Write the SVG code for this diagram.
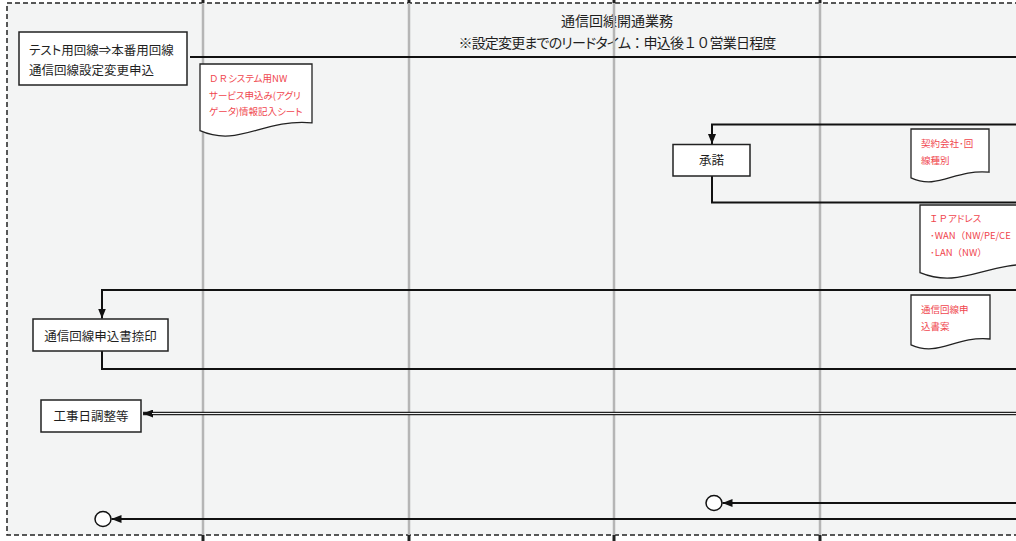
<svg xmlns="http://www.w3.org/2000/svg" width="1016" height="541" viewBox="0 0 1016 541">
<style>
text{font-family:"Noto Sans CJK JP","Noto Sans",sans-serif;fill:#1f1f1f}
.p{font-feature-settings:"palt"}
.n{font-feature-settings:normal}
.t14{font-size:14px}
.t12{font-size:12.5px;font-feature-settings:"palt"}
.red{font-size:9.5px;fill:#f0464e;font-feature-settings:"palt"}
.box{fill:#fff;stroke:#222;stroke-width:1.5}
.doc{fill:#fff;stroke:#222;stroke-width:1.3}
.lane{stroke:#b5b5b5;stroke-width:2.5}
.tick{stroke:#222;stroke-width:3}
.con{fill:none;stroke:#111;stroke-width:2}
</style>
<defs>
<marker id="arr" viewBox="0 0 10 8" refX="10" refY="4" markerWidth="10" markerHeight="8" markerUnits="userSpaceOnUse" orient="auto">
<path d="M0,0 L10,4 L0,8 z" fill="#111"/>
</marker>
</defs>
<rect x="0" y="0" width="1016" height="541" fill="#fff"/>
<rect x="7" y="3" width="1020" height="532" fill="#f3f4f4" stroke="#222" stroke-width="1.5" stroke-dasharray="5 3"/>
<g id="title">
<text class="t14" x="617" y="26" text-anchor="middle">通信回線開通業務</text>
<text class="t14" x="617" y="48" text-anchor="middle" letter-spacing="-0.8">※設定変更<tspan class="p">までのリードタイム</tspan>：申込後１０営業日程度</text>
</g>
<g id="lanes">
<line class="lane" x1="203" y1="3" x2="203" y2="535"/>
<line class="lane" x1="409" y1="3" x2="409" y2="535"/>
<line class="lane" x1="614" y1="3" x2="614" y2="535"/>
<line class="lane" x1="820" y1="3" x2="820" y2="535"/>
<line class="tick" x1="203" y1="0" x2="203" y2="3"/>
<line class="tick" x1="409" y1="0" x2="409" y2="3"/>
<line class="tick" x1="614" y1="0" x2="614" y2="3"/>
<line class="tick" x1="820" y1="0" x2="820" y2="3"/>
<line class="tick" x1="203" y1="535" x2="203" y2="541"/>
<line class="tick" x1="409" y1="535" x2="409" y2="541"/>
<line class="tick" x1="614" y1="535" x2="614" y2="541"/>
<line class="tick" x1="820" y1="535" x2="820" y2="541"/>
</g>
<g id="connectors">
<path class="con" d="M190,57 H1016"/>
<path class="con" d="M1016,124.5 H712 V144" marker-end="url(#arr)"/>
<path class="con" d="M712,176 V202.5 H1016"/>
<path class="con" d="M1016,290 H102 V318.5" marker-end="url(#arr)"/>
<path class="con" d="M102,351 V369 H1016"/>
<path d="M1016,413.5 H143" fill="none" stroke="#222" stroke-width="3.6" marker-end="url(#arr)"/>
<path d="M1016,413.5 H152" fill="none" stroke="#f3f4f4" stroke-width="1.2"/>
<path class="con" d="M1016,503 H722.5" marker-end="url(#arr)"/>
<path class="con" d="M1016,519 H111.5" marker-end="url(#arr)"/>
</g>
<g id="n-request">
<rect class="box" x="19" y="32" width="168" height="53"/>
<text class="t12" x="29" y="55">テスト用回線⇒本番用回線</text>
<text class="t12" x="29" y="75">通信回線設定変更申込</text>
</g>
<g id="doc-dr">
<path class="doc" d="M200,64 H312 V122.9 C261.6,118.6 239.2,147.8 200,130.7 Z"/>
<text class="red" x="209" y="82"><tspan class="n">ＤＲ</tspan>システム用NW</text>
<text class="red" x="209" y="99">サービス申込み(アグリ</text>
<text class="red" x="209" y="115">ゲータ)情報記入シート</text>
</g>
<g id="n-approve">
<rect class="box" x="673" y="144.5" width="77" height="31.5"/>
<text class="t12" x="711.5" y="165" text-anchor="middle">承諾</text>
</g>
<g id="doc-contract">
<path class="doc" d="M911,129 H989 V172.2 C953.9,169.1 938.3,190.4 911,177.9 Z"/>
<text class="red" x="921" y="147">契約会社･回</text>
<text class="red" x="921" y="164">線種別</text>
</g>
<g id="doc-ip">
<path class="doc" d="M920,205 H1040 V264.8 C986,260.5 962,290 920,272.7 Z"/>
<text class="red" x="929" y="222"><tspan class="n">ＩＰ</tspan>アドレス</text>
<text class="red" x="930" y="239">･WAN<tspan class="n">（</tspan>NW/PE/CE</text>
<text class="red" x="930" y="256">･LAN<tspan class="n">（</tspan>NW<tspan class="n">）</tspan></text>
</g>
<g id="doc-form">
<path class="doc" d="M911,295 H990 V339 C954.5,335.8 938.7,357.5 911,344.8 Z"/>
<text class="red" x="921" y="313">通信回線申</text>
<text class="red" x="921" y="330">込書案</text>
</g>
<g id="n-stamp">
<rect class="box" x="33" y="319" width="135" height="32"/>
<text class="t12" x="100.5" y="341" text-anchor="middle">通信回線申込書捺印</text>
</g>
<g id="n-schedule">
<rect class="box" x="41" y="400" width="100" height="32"/>
<text class="t12" x="91" y="420.5" text-anchor="middle">工事日調整等</text>
</g>
<g id="end-1">
<ellipse cx="714" cy="503" rx="8" ry="7.5" fill="#fff" stroke="#111" stroke-width="1.5"/>
</g>
<g id="end-2">
<ellipse cx="103" cy="519" rx="8" ry="7.5" fill="#fff" stroke="#111" stroke-width="1.5"/>
</g>
</svg>
